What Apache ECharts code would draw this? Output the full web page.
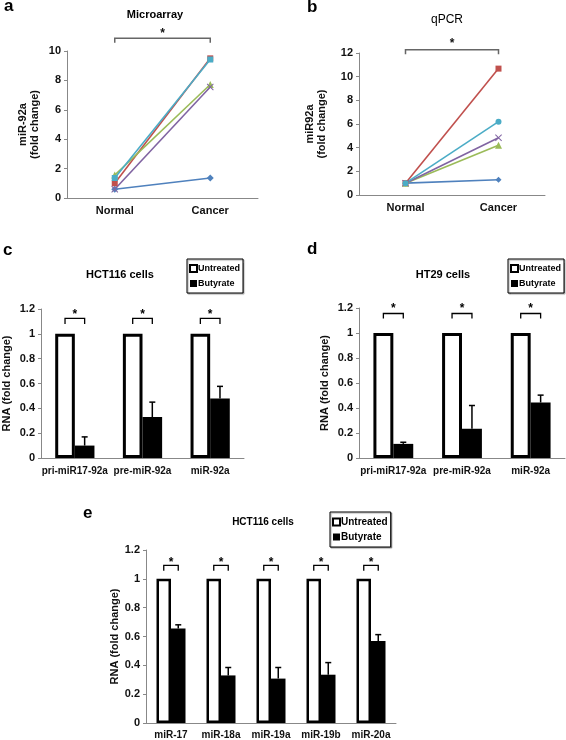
<!DOCTYPE html>
<html><head><meta charset="utf-8">
<script src="https://cdn.jsdelivr.net/npm/echarts@6/dist/echarts.min.js"></script>
<style>html,body{margin:0;padding:0;background:#fff}#c{width:566px;height:740px}</style>
</head><body><div id="c"></div>
<script>
// ---------- data ----------
const lineCategories = ['Normal', 'Cancer'];
const aBlue   = [0.6, 1.36];
const aRed    = [1.0, 9.5];
const aGreen  = [1.56, 7.72];
const aPurple = [0.6, 7.55];
const aCyan   = [1.36, 9.42];
const bBlue   = [1.0, 1.29];
const bRed    = [1.0, 10.68];
const bGreen  = [1.0, 4.2];
const bPurple = [1.0, 4.84];
const bCyan   = [1.0, 6.2];

const cCategories = ['pri-miR17-92a', 'pre-miR-92a', 'miR-92a'];
const cUntreated  = [1, 1, 1];
const cButyrate   = [0.1, 0.33, 0.48];
const cButyrateTop = [0.17, 0.45, 0.577];

const dCategories = ['pri-miR17-92a', 'pre-miR-92a', 'miR-92a'];
const dUntreated  = [1, 1, 1];
const dButyrate   = [0.113, 0.234, 0.444];
const dButyrateTop = [0.126, 0.42, 0.503];

const eCategories = ['miR-17', 'miR-18a', 'miR-19a', 'miR-19b', 'miR-20a'];
const eUntreated  = [1, 1, 1, 1, 1];
const eButyrate   = [0.656, 0.33, 0.308, 0.335, 0.569];
const eButyrateTop = [0.681, 0.385, 0.385, 0.419, 0.613];

// annotation levels (bracket top, bracket legs, star) per panel
const aSig = [10.86, 10.56, 11.4];
const bSig = [12.28, 11.9, 13.0];
const cSig = [1.124, 1.08, 1.18];
const dSig = [1.156, 1.116, 1.215];
const eSig = [1.093, 1.056, 1.135];

// ---------- style ----------
const FONT = '"Liberation Sans", Arial, Helvetica, sans-serif';
const C = ['#4F81BD', '#C0504D', '#9BBB59', '#8064A2', '#4BACC6'];
const BAR_FRAC = 0.29;
const STAR_DY = 3;
const xSymbol = 'path://M0,1L1,0L5,4L9,0L10,1L6,5L10,9L9,10L5,6L1,10L0,9L4,5Z';

const chart = echarts.init(document.getElementById('c'));

function yAx(grid, max, interval, name, gap, extra) {
  return Object.assign({
    type: 'value', gridIndex: grid, min: 0, max: max, interval: interval,
    name: name, nameLocation: 'middle', nameGap: gap,
    nameTextStyle: {fontFamily: FONT, fontWeight: 'bold', fontSize: 11, color: '#111', lineHeight: 12},
    axisLine: {show: true, lineStyle: {color: '#888', width: 1}},
    axisTick: {show: true, length: 3, inside: false, lineStyle: {color: '#888'}},
    axisLabel: {fontFamily: FONT, fontWeight: 'bold', fontSize: 11, color: '#111', margin: 6},
    splitLine: {show: false}
  }, extra || {});
}
function xAx(grid, cats, fs, margin) {
  return {
    type: 'category', gridIndex: grid, data: cats, boundaryGap: true,
    axisLine: {show: true, lineStyle: {color: '#888', width: 1}},
    axisTick: {show: false},
    axisLabel: {fontFamily: FONT, fontWeight: 'bold', fontSize: fs, color: '#111', margin: margin, interval: 0},
    splitLine: {show: false}
  };
}
function lineS(grid, data, color, symbol, size) {
  return {
    type: 'line', xAxisIndex: grid, yAxisIndex: grid, data: data,
    symbol: symbol, symbolSize: size, showSymbol: true,
    lineStyle: {color: color, width: 1.6},
    itemStyle: {color: color, borderWidth: 0},
    emphasis: {disabled: true}, silent: true, animation: false, z: 3
  };
}
function pairBracket(grid, sig, color) {
  return {
    type: 'custom', xAxisIndex: grid, yAxisIndex: grid, data: [[0, 1]], silent: true, animation: false, z: 5,
    renderItem: function (params, api) {
      const l = api.coord([0, sig[0]]);
      const r = api.coord([1, sig[0]]);
      const leg = api.coord([0, sig[1]])[1];
      const st = api.coord([0, sig[2]])[1];
      return {type: 'group', children: [
        {type: 'polyline', shape: {points: [[l[0], leg], [l[0], l[1]], [r[0], r[1]], [r[0], leg]]},
         style: {stroke: color, lineWidth: 1.5, fill: null}},
        {type: 'text', style: {text: '*', x: (l[0] + r[0]) / 2, y: st + STAR_DY, align: 'center', verticalAlign: 'middle',
          font: 'bold 12px ' + FONT, fill: '#111'}}
      ]};
    }
  };
}
function barS(grid, name, data, white, bw) {
  return {
    type: 'bar', name: name, xAxisIndex: grid, yAxisIndex: grid, data: data,
    barWidth: (BAR_FRAC * 100) + '%', barGap: '0%',
    itemStyle: white ? {color: '#fff', borderColor: '#000', borderWidth: bw} : {color: '#000', borderColor: '#000', borderWidth: 0},
    emphasis: {disabled: true}, silent: true, animation: false, z: 2
  };
}
function errS(grid, values, tops) {
  return {
    type: 'custom', xAxisIndex: grid, yAxisIndex: grid, silent: true, animation: false, z: 4,
    data: values.map((v, i) => [i, v, tops[i]]),
    renderItem: function (params, api) {
      const i = api.value(0);
      const band = api.size([1, 0])[0];
      const b = api.coord([i, api.value(1)]);
      const t = api.coord([i, api.value(2)]);
      const x = b[0] + band * BAR_FRAC / 2;
      return {type: 'group', children: [
        {type: 'line', shape: {x1: x, y1: b[1], x2: x, y2: t[1]}, style: {stroke: '#000', lineWidth: 1.5}},
        {type: 'line', shape: {x1: x - 3, y1: t[1], x2: x + 3, y2: t[1]}, style: {stroke: '#000', lineWidth: 1.5}}
      ]};
    }
  };
}
function sigS(grid, cats, sig) {
  return {
    type: 'custom', xAxisIndex: grid, yAxisIndex: grid, silent: true, animation: false, z: 5,
    data: cats.map((c, i) => [i, sig[0]]),
    renderItem: function (params, api) {
      const i = api.value(0);
      const band = api.size([1, 0])[0];
      const w = band * BAR_FRAC;
      const p = api.coord([i, sig[0]]);
      const leg = api.coord([i, sig[1]])[1];
      const st = api.coord([i, sig[2]])[1];
      const x1 = p[0] - w / 2, x2 = p[0] + w / 2;
      return {type: 'group', children: [
        {type: 'polyline', shape: {points: [[x1, leg], [x1, p[1]], [x2, p[1]], [x2, leg]]},
         style: {stroke: '#000', lineWidth: 1.3, fill: null}},
        {type: 'text', style: {text: '*', x: p[0], y: st + STAR_DY, align: 'center', verticalAlign: 'middle',
          font: 'bold 12px ' + FONT, fill: '#000'}}
      ]};
    }
  };
}
function legendAt(left, top, fs, gap) {
  return {
    left: left, top: top, orient: 'vertical', selectedMode: false,
    itemWidth: 7, itemHeight: 7, itemGap: gap, padding: [5, 3, 5, 2],
    borderColor: '#000', borderWidth: 1, backgroundColor: '#fff',
    shadowColor: 'rgba(0,0,0,0.35)', shadowOffsetX: 1, shadowOffsetY: 1, shadowBlur: 1,
    icon: 'rect',
    textStyle: {fontFamily: FONT, fontWeight: 'bold', fontSize: fs, color: '#000', padding: [0, 0, 0, -4]},
    data: [
      {name: 'Untreated', itemStyle: {color: '#fff', borderColor: '#000', borderWidth: 2}},
      {name: 'Butyrate', itemStyle: {color: '#000', borderWidth: 0}}
    ]
  };
}
// text placed by its baseline (middle-anchored, shifted by ~0.33em)
function txt(text, x, baseline, fs, weight, align) {
  return {type: 'text', x: x, y: baseline - 0.33 * fs, silent: true,
    style: {text: text, font: weight + ' ' + fs + 'px ' + FONT, fill: '#000', align: align || 'center', verticalAlign: 'middle'}};
}

const option = {
  backgroundColor: '#fff',
  animation: false,
  grid: [
    {left: 67, right: 308, top: 51, bottom: 542},
    {left: 359, right: 21, top: 53, bottom: 545},
    {left: 40, right: 322, top: 309, bottom: 282},
    {left: 359, right: 1, top: 308, bottom: 282},
    {left: 146, right: 170, top: 550, bottom: 15}
  ],
  xAxis: [
    xAx(0, lineCategories, 11, 7),
    xAx(1, lineCategories, 11, 7),
    xAx(2, cCategories, 10, 8),
    xAx(3, dCategories, 10, 8),
    xAx(4, eCategories, 10, 7)
  ],
  yAxis: [
    yAx(0, 10, 2, 'miR-92a\n(fold change)', 26),
    yAx(1, 12, 2, 'miR92a\n(fold change)', 31),
    yAx(2, 1.2, 0.2, 'RNA (fold change)', 28),
    yAx(3, 1.2, 0.2, 'RNA (fold change)', 28),
    yAx(4, 1.2, 0.2, 'RNA (fold change)', 25)
  ],
  legend: [
    legendAt(187, 259, 9, 6),
    legendAt(508, 259, 9, 6),
    legendAt(330, 512, 10, 5)
  ],
  series: [
    lineS(0, aBlue, C[0], 'diamond', 7),
    lineS(0, aRed, C[1], 'rect', 6),
    lineS(0, aGreen, C[2], 'triangle', 7),
    lineS(0, aPurple, C[3], xSymbol, 7),
    lineS(0, aCyan, C[4], 'rect', 6),
    pairBracket(0, aSig, '#666'),
    lineS(1, bBlue, C[0], 'diamond', 6),
    lineS(1, bRed, C[1], 'rect', 6),
    lineS(1, bGreen, C[2], 'triangle', 7),
    lineS(1, bPurple, C[3], xSymbol, 7),
    lineS(1, bCyan, C[4], 'circle', 6),
    pairBracket(1, bSig, '#666'),

    barS(2, 'Untreated', cUntreated, true, 3),
    barS(2, 'Butyrate', cButyrate, false),
    errS(2, cButyrate, cButyrateTop),
    sigS(2, cCategories, cSig),

    barS(3, 'Untreated', dUntreated, true, 3),
    barS(3, 'Butyrate', dButyrate, false),
    errS(3, dButyrate, dButyrateTop),
    sigS(3, dCategories, dSig),

    barS(4, 'Untreated', eUntreated, true, 2.5),
    barS(4, 'Butyrate', eButyrate, false),
    errS(4, eButyrate, eButyrateTop),
    sigS(4, eCategories, eSig)
  ],
  graphic: [
    txt('a', 4, 12, 17, 'bold', 'left'),
    txt('b', 307, 13, 17, 'bold', 'left'),
    txt('c', 3, 256, 17, 'bold', 'left'),
    txt('d', 307, 255, 17, 'bold', 'left'),
    txt('e', 83, 519, 17, 'bold', 'left'),
    txt('Microarray', 155, 19, 11, 'bold'),
    txt('qPCR', 447, 24, 12, 'normal'),
    txt('HCT116 cells', 120, 279, 11, 'bold'),
    txt('HT29 cells', 443, 279, 11, 'bold'),
    txt('HCT116 cells', 263, 526, 10, 'bold')
  ]
};
chart.setOption(option);
</script>
</body></html>
